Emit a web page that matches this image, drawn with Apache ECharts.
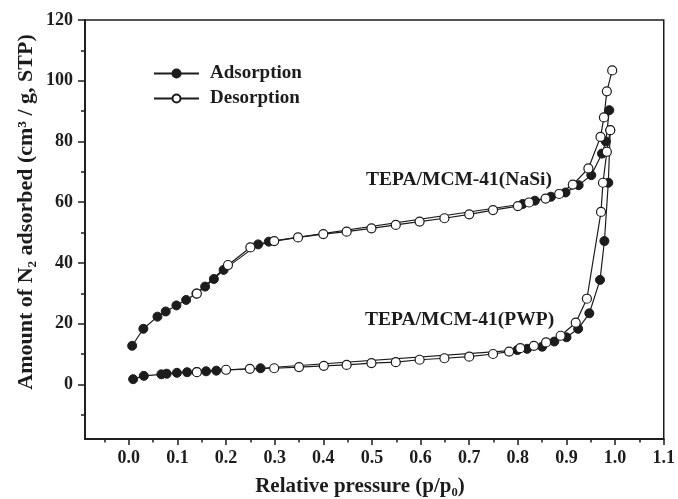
<!DOCTYPE html>
<html>
<head>
<meta charset="utf-8">
<script src="https://cdn.jsdelivr.net/npm/echarts@6/dist/echarts.min.js"></script>
<style>html,body{margin:0;padding:0;background:#fff;}#c{width:678px;height:499px;}</style>
</head>
<body>
<div id="c"></div>
<script>
// ---- data ----
var nasiAdsX = [0.007,0.03,0.059,0.076,0.098,0.118,0.139,0.157,0.175,0.195,0.266,0.288,0.81,0.835,0.868,0.898,0.925,0.951,0.973,0.981,0.988];
var nasiAdsY = [12.7,18.3,22.3,24.0,26.0,27.8,29.9,32.2,34.7,37.7,46.1,47.0,59.4,60.5,61.8,63.2,65.6,68.9,76.0,80.0,90.3];
var nasiDesX = [0.994,0.983,0.977,0.970,0.945,0.913,0.885,0.857,0.823,0.800,0.749,0.700,0.649,0.598,0.549,0.499,0.448,0.400,0.348,0.299,0.250,0.204,0.140];
var nasiDesY = [103.4,96.5,87.9,81.5,71.1,65.8,62.7,61.2,59.9,58.7,57.4,56.0,54.7,53.6,52.5,51.4,50.3,49.5,48.4,47.2,45.1,39.3,29.9];
var pwpAdsX = [0.009,0.031,0.067,0.078,0.099,0.120,0.140,0.159,0.180,0.271,0.799,0.819,0.850,0.875,0.900,0.924,0.947,0.969,0.978,0.986,0.990];
var pwpAdsY = [1.7,2.8,3.3,3.5,3.8,4.0,4.1,4.3,4.5,5.3,11.3,11.7,12.4,14.1,15.5,18.3,23.4,34.4,47.2,66.4,83.7];
var pwpDesX = [0.990,0.983,0.975,0.971,0.942,0.919,0.888,0.858,0.833,0.805,0.782,0.749,0.700,0.649,0.598,0.549,0.499,0.448,0.401,0.350,0.299,0.249,0.200,0.140];
var pwpDesY = [83.7,76.6,66.4,56.8,28.2,20.3,16.0,13.8,12.7,11.9,10.8,10.0,9.1,8.6,8.1,7.3,7.0,6.4,6.1,5.7,5.3,5.1,4.8,4.0];
var xLabelValues = [0,0.1,0.2,0.3,0.4,0.5,0.6,0.7,0.8,0.9,1.0,1.1];
var xMinorValues = [-0.05,0.05,0.15,0.25,0.35,0.45,0.55,0.65,0.75,0.85,0.95,1.05];
var yLabelValues = [0,20,40,60,80,100,120];
var yMinorValues = [-10,10,30,50,70,90,110];
var seriesNames = ['Adsorption','Desorption'];
var sampleLabels = ['TEPA/MCM-41(NaSi)','TEPA/MCM-41(PWP)'];
var xTitle = 'Relative pressure (p/p\u2080)';
var yTitle = 'Amount of N\u2082 adsorbed (cm\u00B3 / g, STP)';

function pairs(xs, ys){ return xs.map(function(x,i){ return [x, ys[i]]; }); }

var FONT = '"Liberation Serif","Times New Roman",serif';
var INK = '#1c1c1c';

function mk(name, data, filled){
  return {
    name: name, type: 'line', data: data,
    symbol: 'circle', symbolSize: 9,
    showSymbol: true,
    z: filled ? 2 : 3,
    lineStyle: {color: INK, width: 1.2},
    itemStyle: filled ? {color: INK, borderColor: INK, borderWidth: 1}
                      : {color: '#fff', borderColor: INK, borderWidth: 1.2},
    emphasis: {disabled: true},
    animation: false
  };
}

var baseX = {
  type: 'value', min: -0.09, max: 1.1, position: 'bottom',
  axisLine: {onZero: false, lineStyle: {color: INK, width: 1.5}},
  splitLine: {show: false}
};
var baseY = {
  type: 'value', min: -18, max: 120, position: 'left',
  axisLine: {onZero: false, lineStyle: {color: INK, width: 1.5}},
  splitLine: {show: false}
};

var chart = echarts.init(document.getElementById('c'), null, {renderer: 'canvas'});
chart.setOption({
  animation: false,
  backgroundColor: '#fff',
  grid: {left: 85, top: 20, right: 10, bottom: 60, show: true, borderColor: INK, borderWidth: 1.5, backgroundColor: 'transparent'},
  legend: {
    data: seriesNames, orient: 'vertical', left: 148, top: 59,
    itemWidth: 45, itemHeight: 10, itemGap: 6,
    textStyle: {fontFamily: FONT, fontWeight: 'bold', fontSize: 19, color: INK, padding: [0,0,0,6]},
    selectedMode: false
  },
  xAxis: [
    Object.assign({}, baseX, {
      axisTick: {show: true, inside: false, length: 6, lineStyle: {color: INK, width: 1.5}, customValues: xLabelValues},
      axisLabel: {show: true, margin: 10, customValues: xLabelValues, fontFamily: FONT, fontWeight: 'bold', fontSize: 18, color: INK,
        formatter: function(v){ return v.toFixed(1); }}
    }),
    Object.assign({}, baseX, {
      axisTick: {show: true, inside: false, length: 3.5, lineStyle: {color: INK, width: 1.5}, customValues: xMinorValues},
      axisLabel: {show: false}
    })
  ],
  yAxis: [
    Object.assign({}, baseY, {
      axisTick: {show: true, inside: false, length: 7, lineStyle: {color: INK, width: 1.5}, customValues: yLabelValues},
      axisLabel: {show: true, margin: 12, customValues: yLabelValues, fontFamily: FONT, fontWeight: 'bold', fontSize: 18, color: INK}
    }),
    Object.assign({}, baseY, {
      axisTick: {show: true, inside: false, length: 4, lineStyle: {color: INK, width: 1.5}, customValues: yMinorValues},
      axisLabel: {show: false}
    })
  ],
  graphic: [
    {type: 'text', x: 26, y: 212, rotation: Math.PI/2,
      style: {text: yTitle, font: 'bold 22px ' + FONT, fill: INK, textAlign: 'center', textVerticalAlign: 'middle'}},
    {type: 'text', x: 360, y: 487,
      style: {text: xTitle, font: 'bold 21px ' + FONT, fill: INK, textAlign: 'center', textVerticalAlign: 'middle'}},
    {type: 'text', x: 366, y: 180,
      style: {text: sampleLabels[0], font: 'bold 19.5px ' + FONT, fill: INK, textAlign: 'left', textVerticalAlign: 'middle'}},
    {type: 'text', x: 365, y: 320,
      style: {text: sampleLabels[1], font: 'bold 19.5px ' + FONT, fill: INK, textAlign: 'left', textVerticalAlign: 'middle'}}
  ],
  series: [
    mk('Adsorption', pairs(nasiAdsX, nasiAdsY), true),
    mk('Adsorption', pairs(pwpAdsX, pwpAdsY), true),
    mk('Desorption', pairs(nasiDesX, nasiDesY), false),
    mk('Desorption', pairs(pwpDesX, pwpDesY), false)
  ]
});
</script>
</body>
</html>
